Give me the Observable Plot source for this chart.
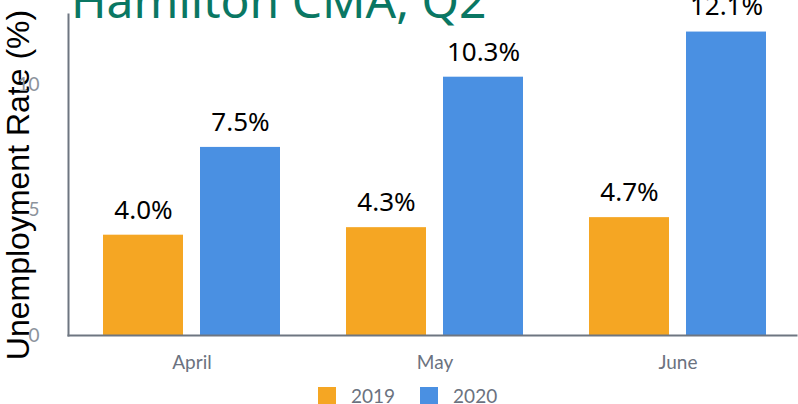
<!DOCTYPE html>
<html>
<head>
<meta charset="utf-8">
<script src="https://cdn.jsdelivr.net/npm/d3@7"></script>
<script src="https://cdn.jsdelivr.net/npm/@observablehq/plot@0.6"></script>
<style>
  html, body { margin: 0; padding: 0; background: #fff; overflow: hidden; }
  #wrap { position: relative; width: 798px; height: 404px; overflow: hidden; }
  #chart { position: relative; z-index: 2; }
  #title { position: absolute; left: 71px; top: -24px; font-family: "Noto Sans", sans-serif; font-size: 48px; line-height: 1; color: #0a7763; white-space: nowrap; z-index: 3; }
  #ylabel { position: absolute; left: 18px; top: 185px; transform: translate(-50%, -50%) rotate(-90deg); font-family: "Liberation Sans", Arial, sans-serif; font-size: 32px; color: #000; white-space: nowrap; line-height: 1; z-index: 1; }
  #legend { position: absolute; left: 318px; top: 387px; display: flex; align-items: center; font-family: Lato, sans-serif; font-size: 19px; line-height: 17px; color: #6b7280; z-index: 3; }
  #legend .sw { width: 18px; height: 17px; display: inline-block; margin-right: 15px; }
  #legend .item { display: flex; align-items: center; margin-right: 25px; }
</style>
</head>
<body>
<div id="wrap">
  <div id="chart"></div>
</div>
<script>
const months = ["April", "May", "June"];
const years = ["2019", "2020"];
const rate2019 = [4.0, 4.3, 4.7];
const rate2020 = [7.5, 10.3, 12.1];
const yTicks = [0, 5, 10];
const colors = ["#F5A623", "#4A90E2"];
const titleText = "Hamilton CMA, Q2";
const yLabel = "Unemployment Rate (%)";

const data = months.flatMap((m, i) => [
  {month: m, year: years[0], value: rate2019[i]},
  {month: m, year: years[1], value: rate2020[i]}
]);

const axisColor = "#6e7681";

const chart = Plot.plot({
  width: 798,
  height: 380,
  marginLeft: 102,
  marginRight: 30,
  marginTop: 14,
  marginBottom: 45,
  style: {fontFamily: "Lato, sans-serif", background: "transparent", overflow: "visible"},
  fx: {domain: months, paddingInner: 0.27, paddingOuter: 0, label: null},
  x: {domain: years, axis: null, paddingInner: 0.18, paddingOuter: 0},
  y: {domain: [0, 12.8], label: null},
  color: {domain: years, range: colors},
  marks: [
    Plot.axisY({ticks: yTicks, tickSize: 0, tickPadding: 64, fontSize: 19, fill: "#8c939c", label: null}),
    Plot.axisFx({anchor: "bottom", tickSize: 0, tickPadding: 20, fontSize: 19, fill: "#6b7280", label: null}),
    Plot.barY(data, {fx: "month", x: "year", y: "value", fill: "year"}),
    Plot.text(data, {fx: "month", x: "year", y: "value", text: d => d.value.toFixed(1) + "%", dy: -25, fontSize: 26, fill: "#000", fontFamily: "'Noto Sans', sans-serif"}),
    Plot.frame({anchor: "bottom", facet: "super", stroke: axisColor, strokeWidth: 2, insetLeft: -35, insetRight: -30}),
    Plot.frame({anchor: "left", facet: "super", stroke: axisColor, strokeWidth: 2, insetLeft: -35, insetRight: -30})
  ]
});
const wrap = document.getElementById("wrap");
document.getElementById("chart").appendChild(chart);

const title = document.createElement("div");
title.id = "title";
title.textContent = titleText;
wrap.appendChild(title);

const yl = document.createElement("div");
yl.id = "ylabel";
yl.textContent = yLabel;
wrap.appendChild(yl);

const legend = document.createElement("div");
legend.id = "legend";
years.forEach((y, i) => {
  const item = document.createElement("span");
  item.className = "item";
  const sw = document.createElement("span");
  sw.className = "sw";
  sw.style.background = colors[i];
  item.appendChild(sw);
  item.appendChild(document.createTextNode(y));
  legend.appendChild(item);
});
wrap.appendChild(legend);
</script>
</body>
</html>
